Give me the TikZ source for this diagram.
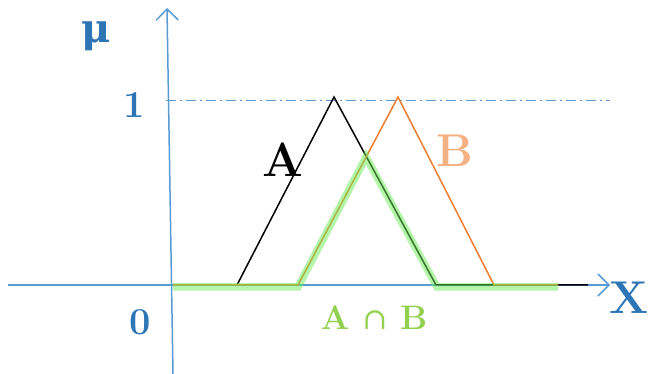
\documentclass[tikz,border=0pt]{standalone}
\usepackage{fontspec}
\usepackage{tikz}
\usetikzlibrary{arrows.meta}
\newfontfamily\symbfont{DejaVu Serif}
\definecolor{axisBlue}{RGB}{91, 155, 213}
\definecolor{labelBlue}{RGB}{46, 117, 182}
\definecolor{setOrange}{RGB}{237, 125, 49}
\definecolor{lightOrange}{RGB}{244, 177, 131}
\definecolor{labelGreen}{RGB}{146, 208, 80}
\definecolor{markGreen}{RGB}{105, 235, 85}

\begin{document}
\begin{tikzpicture}[x=1pt, y=-1pt,
    axis/.style={axisBlue, line width=1.5pt, -{Straight Barb[length=11pt, width=22pt, line width=1.5pt]}},
    lbl/.style={font=\bfseries\fontsize{38}{38}\selectfont, inner sep=0pt}]
        \useasboundingbox (0,0) rectangle (649,374);
        % axes
        \draw[axis] (8,285) -- (610,285);
        \draw[axis] (173,374) -- (167,8);
        \draw[axisBlue, line width=0.8pt, dash pattern=on 10pt off 4pt on 2pt off 4pt] (166,100) -- (610,100);
        % fuzzy sets
        \draw[black, line width=1.5pt] (237,285) -- (334,97) -- (436,285) -- (588,285);
        \draw[setOrange, line width=1.5pt] (173,285) -- (298,285) -- (398,97) -- (494,285) -- (558,285);
        \draw[markGreen, opacity=0.5, line width=7.5pt] (173,287) -- (298,287) -- (366,157) -- (437,287) -- (558,287);
        % labels
        \node[lbl, labelBlue, font=\symbfont\bfseries\fontsize{40}{40}\selectfont] (mu) at (96,36) {μ};
        \node[lbl, labelBlue] (one) at (134,105) {1};
        \node[lbl, labelBlue] (zero) at (140,322) {0};
        \node[lbl, labelBlue, font=\bfseries\fontsize{46}{46}\selectfont, anchor=east] (xlab) at (649,298) {X};
        \node[lbl, black, font=\bfseries\fontsize{48}{48}\selectfont] (alab) at (283,160) {A};
        \node[lbl, lightOrange, font=\bfseries\fontsize{46}{46}\selectfont] (blab) at (455,151) {B};
        \node[lbl, labelGreen, font=\bfseries\fontsize{34}{34}\selectfont] (ablab) at (374,318) {A {\symbfont\mdseries\fontsize{30}{30}\selectfont ∩} B};
      \end{tikzpicture}
\end{document}
